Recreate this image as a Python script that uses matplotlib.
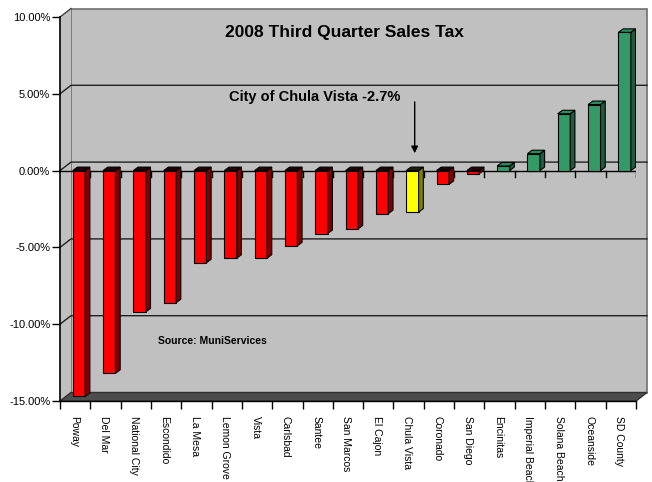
import matplotlib
matplotlib.use("Agg")
import matplotlib.pyplot as plt
from matplotlib.patches import Rectangle, Polygon

plt.rcParams['font.family'] = ['Liberation Sans', 'DejaVu Sans']

cities = ["Poway", "Del Mar", "National City", "Escondido", "La Mesa",
          "Lemon Grove", "Vista", "Carlsbad", "Santee", "San Marcos",
          "El Cajon", "Chula Vista", "Coronado", "San Diego", "Encinitas",
          "Imperial Beach", "Solana Beach", "Oceanside", "SD County"]
change = [-14.7, -13.2, -9.2, -8.6, -6.0, -5.7, -5.7, -4.9, -4.1, -3.8,
          -2.8, -2.7, -0.9, -0.2, 0.3, 1.1, 3.7, 4.3, 9.0]
highlight = "Chula Vista"

yticks = [-15, -10, -5, 0, 5, 10]
ytick_labels = ["-15.00%", "-10.00%", "-5.00%", "0.00%", "5.00%", "10.00%"]

W, H = 652, 482
fig = plt.figure(figsize=(W / 100, H / 100), dpi=100)
ax = fig.add_axes([60 / W, 81 / H, 576 / W, 384 / H])
n = len(cities)
x_lo, x_hi = -0.5, n - 0.5
y_lo, y_hi = -15, 10
ax.set_xlim(x_lo, x_hi)
ax.set_ylim(y_lo, y_hi)
ax.patch.set_visible(False)

# pixel -> data unit conversions for the fake 3d depth
px_x = 576 / n
px_y = 384 / 25
WX, WY = 11 / px_x, 8.5 / px_y      # wall depth
BX, BY = 4.7 / px_x, 3.5 / px_y     # bar depth

grey = "#c0c0c0"
# back wall
ax.add_patch(Rectangle((x_lo + WX, y_lo + WY), x_hi - x_lo, y_hi - y_lo,
                       fc=grey, ec="#707070", lw=1.2, zorder=0, clip_on=False))
# side wall
ax.add_patch(Polygon([(x_lo, y_lo), (x_lo, y_hi), (x_lo + WX, y_hi + WY), (x_lo + WX, y_lo + WY)],
                     closed=True, fc=grey, ec="none", zorder=0.5, clip_on=False))
ax.plot([x_lo, x_lo + WX], [y_hi, y_hi + WY], color="#404040", lw=1, zorder=1, clip_on=False)
# floor
ax.add_patch(Polygon([(x_lo, y_lo), (x_hi, y_lo), (x_hi + WX, y_lo + WY), (x_lo + WX, y_lo + WY)],
                     closed=True, fc="#4d4d4d", ec="#303030", lw=1, zorder=1, clip_on=False))

# gridlines on side and back wall
for v in [-10, -5, 0, 5]:
    ax.plot([x_lo, x_lo + WX, x_hi + WX], [v, v + WY, v + WY],
            color="#202020", lw=1, zorder=1, clip_on=False)

# front zero line with ticks
ax.plot([x_lo, x_hi], [0, 0], color="black", lw=1, zorder=2)
for k in range(1, n + 1):
    ax.plot([k - 0.5, k - 0.5], [0, -6 / px_y], color="black", lw=1, zorder=2)

# bars
for i, (city, v) in enumerate(zip(cities, change)):
    if city == highlight:
        front, side, top = "#ffff00", "#808000", "#202000"
    elif v < 0:
        front, side, top = "#ff0000", "#800000", "#200000"
    else:
        front, side, top = "#339966", "#1f5c3d", "#2e8a5c"
    x0, w = i - 0.08, 0.41
    ax.add_patch(Rectangle((x0, 0), w, v, fc=front, ec="black", lw=0.8, zorder=3))
    ax.add_patch(Polygon([(x0 + w, 0), (x0 + w, v), (x0 + w + BX, v + BY), (x0 + w + BX, BY)],
                         closed=True, fc=side, ec="black", lw=0.8, zorder=3))
    yt = max(v, 0)
    ax.add_patch(Polygon([(x0, yt), (x0 + w, yt), (x0 + w + BX, yt + BY), (x0 + BX, yt + BY)],
                         closed=True, fc=top, ec="black", lw=0.8, zorder=3))

for s in ["top", "right"]:
    ax.spines[s].set_visible(False)
ax.spines["left"].set_linewidth(1.2)
ax.spines["bottom"].set_linewidth(1)
ax.spines["left"].set_zorder(4)

ax.set_yticks(yticks)
ax.set_yticklabels(ytick_labels, fontsize=8)
ax.tick_params(axis="y", direction="out", length=6, width=1, pad=1)
ax.set_xticks([i - 0.05 for i in range(n)])
ax.set_xticklabels(cities, rotation=270, fontsize=7.5)
ax.set_xticks([k - 0.5 for k in range(n + 1)], minor=True)
ax.tick_params(axis="x", which="major", length=0, pad=11)
ax.tick_params(axis="x", which="minor", direction="out", length=6, width=1)

fig.text(344 / W, 1 - 33 / H, "2008 Third Quarter Sales Tax", ha="center", va="center",
         fontsize=12.5, fontweight="bold")
fig.text(315 / W, 1 - 97 / H, "City of Chula Vista -2.7%", ha="center", va="center",
         fontsize=10.5, fontweight="bold")
ci = cities.index(highlight)
ax.annotate("", xy=(ci + 0.2, 0.95), xytext=(ci + 0.2, 4.65),
            arrowprops=dict(arrowstyle="-|>", color="black", lw=1, mutation_scale=10), zorder=5)
fig.text(212 / W, 1 - 341 / H, "Source: MuniServices", ha="center", va="center",
         fontsize=7.5, fontweight="bold")

fig.savefig("out.png", dpi=100)
